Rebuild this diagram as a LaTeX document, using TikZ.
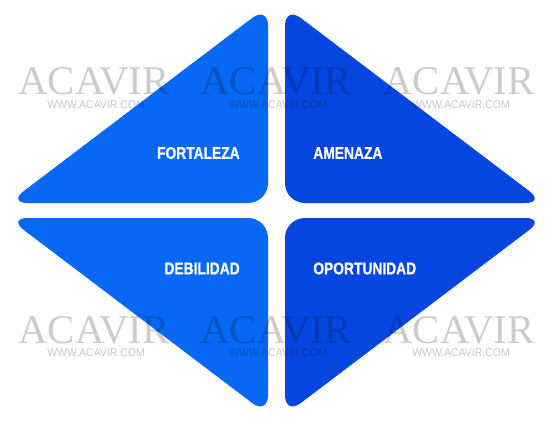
\documentclass[tikz,border=0pt]{standalone}
\usepackage{fontspec}
\setmainfont{Liberation Serif}
\newfontfamily\labelfont[FakeStretch=0.81,BoldFeatures={FakeBold=0.6}]{Liberation Sans}
\newfontfamily\wwwfont[FakeStretch=0.93]{Liberation Sans}
\definecolor{blueleft}{RGB}{8,104,246}
\definecolor{blueright}{RGB}{5,70,224}
\tikzset{
    petal/.style={rounded corners=11.3pt},
    quadtext/.style={text=white, inner sep=0pt, font=\labelfont\fontsize{9.7}{10}\selectfont\bfseries},
    markbig/.style={text=black, text opacity=0.2, inner sep=0pt, anchor=base, text depth=0pt, font=\fontsize{23.2}{24}\selectfont},
    marksmall/.style={text=black, text opacity=0.22, inner sep=0pt, text height=4.5pt, text depth=0pt, font=\wwwfont\fontsize{6.4}{7}\selectfont}
}
\begin{document}
\begin{tikzpicture}[x=0.02cm, y=-0.02cm]
\useasboundingbox (0,0) rectangle (553,422);
% the four rounded triangles
\fill[blueleft, petal] (140,203) -- (8,203) -- (268,6) -- (268,203) -- cycle;
\fill[blueright, petal] (413,203) -- (545,203) -- (285,6) -- (285,203) -- cycle;
\fill[blueleft, petal] (140,218) -- (8,218) -- (268,415) -- (268,218) -- cycle;
\fill[blueright, petal] (413,218) -- (545,218) -- (285,415) -- (285,218) -- cycle;
% labels
\node[quadtext, anchor=east] (fortaleza) at (240,153) {FORTALEZA};
\node[quadtext, anchor=west] (amenaza) at (313,153) {AMENAZA};
\node[quadtext, anchor=east] (debilidad) at (240,268.5) {DEBILIDAD};
\node[quadtext, anchor=west] (oportunidad) at (313,268.5) {OPORTUNIDAD};
% watermarks
\foreach \wx/\wi in {94/1, 276/2, 459/3} {
    \node[markbig] (mark\wi a) at (\wx,95) {ACAVIR};
    \node[marksmall] (www\wi a) at (\wx+2,104.5) {WWW.ACAVIR.COM};
    \node[markbig] (mark\wi b) at (\wx,343) {ACAVIR};
    \node[marksmall] (www\wi b) at (\wx+2,353) {WWW.ACAVIR.COM};
}
\end{tikzpicture}
\end{document}
